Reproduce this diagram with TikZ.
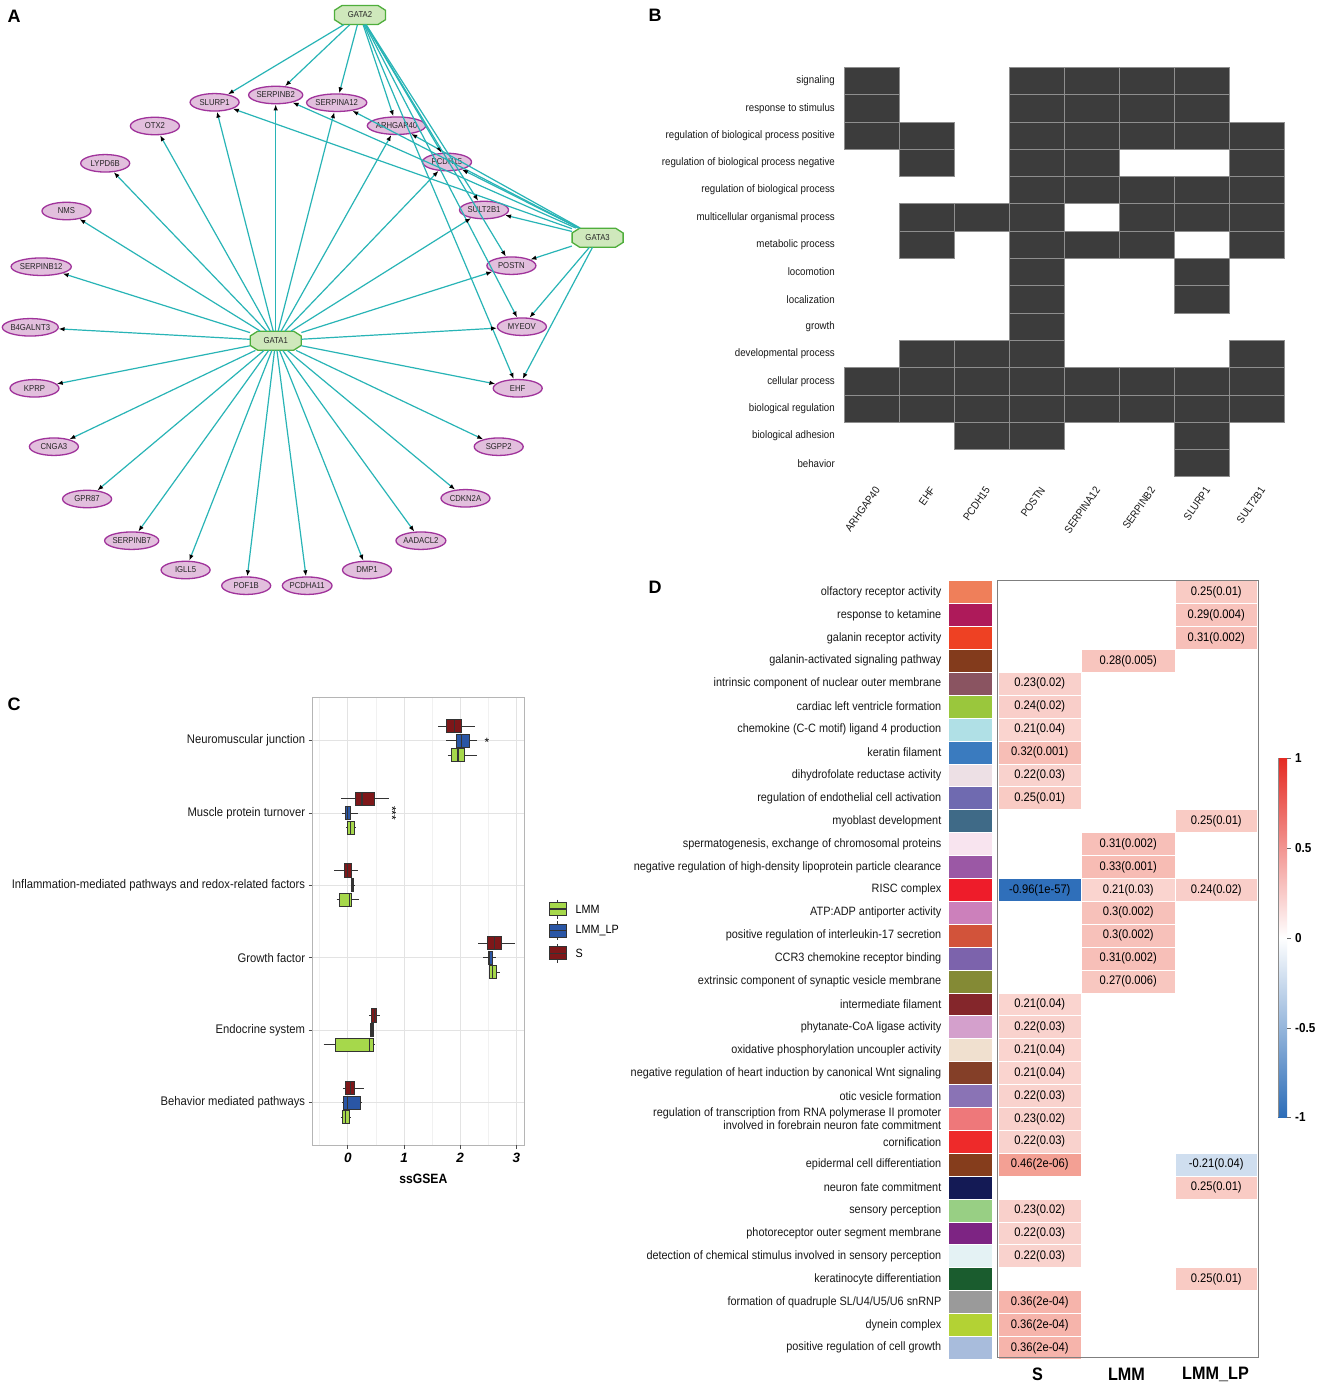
\documentclass[tikz,border=0pt]{standalone}
\usepackage{fontspec}
\setmainfont{Liberation Sans}
\newfontfamily\nsans[FakeStretch=0.9]{Liberation Sans}
\usetikzlibrary{shapes.geometric,arrows.meta}
\definecolor{genefill}{HTML}{E2BFDD}
\definecolor{genedraw}{HTML}{A0339B}
\definecolor{tffill}{HTML}{CFE8BC}
\definecolor{tfdraw}{HTML}{4FAE3C}
\definecolor{edgec}{HTML}{28B4B6}
\definecolor{cellB}{HTML}{3C3C3C}
\definecolor{cellBline}{HTML}{8E8E8E}
\definecolor{Sred}{HTML}{7E1719}
\definecolor{Sblue}{HTML}{2A56A5}
\definecolor{Sgreen}{HTML}{A6D84B}
\definecolor{bxc}{HTML}{333333}
\definecolor{gridc}{HTML}{E3E3E3}
\definecolor{gridm}{HTML}{F1F1F1}
\definecolor{panelc}{HTML}{B5B5B5}
\definecolor{rdc}{HTML}{E8442E}
\definecolor{buc}{HTML}{2F6FBA}
\definecolor{framec}{HTML}{7F7F7F}
\definecolor{cbtop}{HTML}{E52A22}
\definecolor{cbbot}{HTML}{2C6DB8}
\newcommand\fsz[1]{\fontsize{#1}{#1}\selectfont}
\newcommand\bxp[7]{%
  \draw[bxl] (#2,#1) -- (#3,#1) (#5,#1) -- (#6,#1);
  \filldraw[bxl,fill=#7] (#3,#1-6.6) rectangle (#5,#1+6.6);
  \draw[bxl,line width=1.3pt] (#4,#1-6.6) -- (#4,#1+6.6);}
% octagonal transcription-factor node
\newcommand\octnode[4]{%
  \filldraw[fill=tffill, draw=tfdraw, line width=1.3pt]
    ({#2-18},{#3-9.5}) -- ({#2+18},{#3-9.5}) -- ({#2+25.5},{#3-4.7}) --
    ({#2+25.5},{#3+4.7}) -- ({#2+18},{#3+9.5}) -- ({#2-18},{#3+9.5}) --
    ({#2-25.5},{#3+4.7}) -- ({#2-25.5},{#3-4.7}) -- cycle;
  \node[tf] (#1) at (#2,#3) {#4};}
\tikzset{
  gene/.style={ellipse, draw=genedraw, fill=genefill, line width=1.3pt,
    minimum width=49pt, minimum height=17.5pt, inner sep=0pt,
    font=\nsans\fsz{8.6}, text=black!85},
  tf/.style={rectangle, minimum width=51pt, minimum height=19pt, inner sep=0pt,
    font=\nsans\fsz{8.6}, text=black!85},
  conn/.style={draw=edgec, line width=1.2pt,
    -{Latex[length=6pt,width=4.5pt,color=black]}},
  plab/.style={font=\bfseries\fsz{18}, inner sep=0pt},
  lblB/.style={font=\nsans\fsz{10.8}, inner sep=0pt, text=black!90},
  lblC/.style={font=\nsans\fsz{12.5}, inner sep=0pt, text=black!90},
  lblD/.style={font=\nsans\fsz{12.1}, inner sep=0pt, text=black!90, align=right},
  cellBs/.style={fill=cellB, draw=cellBline, line width=0.8pt},
  bxl/.style={draw=bxc, line width=0.9pt},
}
\begin{document}
\begin{tikzpicture}[x=1pt,y=-1pt]
\useasboundingbox[fill=white] (0,0) rectangle (1325,1389);

% ---------------- panel labels
\node[plab] (labA) at (14,16) {A};
\node[plab] (labB) at (655,15) {B};
\node[plab] (labC) at (14,704) {C};
\node[plab] (labD) at (655,587) {D};

% ---------------- Panel A: network
\octnode{GATA2}{360}{15}{GATA2}
\octnode{GATA3}{597.6}{237.7}{GATA3}
\octnode{GATA1}{275.7}{340.7}{GATA1}
\foreach \n/\x/\y in {SLURP1/214.6/102.3, SERPINB2/275.7/95, SERPINA12/336.7/102.7,
  OTX2/154.9/126, ARHGAP40/396.5/125.7, LYPD6B/105.2/163.3, PCDH15/447/162,
  NMS/66.5/211, SULT2B1/484/210, SERPINB12/41.2/266.7, POSTN/511.4/265.7,
  B4GALNT3/30.3/327.3, MYEOV/521.9/326.7, KPRP/34.5/388.3, EHF/517.7/388.3,
  CNGA3/53.9/446.7, SGPP2/498.7/446.7, GPR87/87.1/499, CDKN2A/465.5/498.3,
  SERPINB7/131.7/540.7, AADACL2/420.9/540.7, IGLL5/185.6/570, DMP1/367/570,
  POF1B/246.2/585.7, PCDHA11/307.2/585.7}
  \node[gene] (\n) at (\x,\y) {\n};

\foreach \t in {SLURP1,SERPINB2,SERPINA12,ARHGAP40,PCDH15,SULT2B1,POSTN,MYEOV,EHF}{
  \draw[conn] (GATA2) -- (\t);
  \draw[conn] (GATA3) -- (\t);
}
\foreach \t in {OTX2,LYPD6B,NMS,SERPINB12,B4GALNT3,KPRP,CNGA3,GPR87,SERPINB7,IGLL5,
  POF1B,PCDHA11,DMP1,AADACL2,CDKN2A,SGPP2,EHF,MYEOV,POSTN,SULT2B1,PCDH15,ARHGAP40,
  SERPINA12,SERPINB2,SLURP1}
  \draw[conn] (GATA1) -- (\t);

% ---------------- Panel B: GO matrix
\foreach \rr/\cols in {1/{1,4,5,6,7}, 2/{1,4,5,6,7}, 3/{1,2,4,5,6,7,8}, 4/{2,4,5,8},
  5/{4,5,6,7,8}, 6/{2,3,4,6,7,8}, 7/{2,4,5,6,8}, 8/{4,7}, 9/{4,7}, 10/{4},
  11/{2,3,4,8}, 12/{1,2,3,4,5,6,7,8}, 13/{1,2,3,4,5,6,7,8}, 14/{3,4,7}, 15/{7}}
  \foreach \cc in \cols
    \filldraw[cellBs] ({844+(\cc-1)*55.05},{67.3+(\rr-1)*27.3}) rectangle ++(55.05,27.3);
\foreach \lab [count=\rr] in {signaling, response to stimulus,
  regulation of biological process positive, regulation of biological process negative,
  regulation of biological process, multicellular organismal process, metabolic process,
  locomotion, localization, growth, developmental process, cellular process,
  biological regulation, biological adhesion, behavior}
  \node[lblB, anchor=east] (brow\rr) at (835,{67.3+(\rr-0.5)*27.3}) {\lab};
\foreach \g [count=\cc] in {ARHGAP40,EHF,PCDH15,POSTN,SERPINA12,SERPINB2,SLURP1,SULT2B1}
  \node[lblB, rotate=55, anchor=east] (bcol\cc) at ({844+(\cc-0.5)*55.05+6},488) {\g};

% ---------------- Panel C: boxplots
\draw[panelc, line width=0.9pt, fill=white] (312.2,697.3) rectangle (524.5,1145);
\foreach \v in {-0.5,0.5,1.5,2.5}
  \draw[gridm, line width=0.6pt] ({347.8+56.2*\v},697.8) -- ({347.8+56.2*\v},1144.5);
\foreach \v in {0,1,2,3}
  \draw[gridc, line width=1pt] ({347.8+56.2*\v},697.8) -- ({347.8+56.2*\v},1144.5);
\foreach \yy in {740.7,813.3,885,957.7,1030,1102.7}{
  \draw[gridc, line width=1pt] (312.7,\yy) -- (524,\yy);
  \draw[black!70, line width=0.7pt] (308.5,\yy) -- (312.2,\yy);
}
\foreach \v in {0,1,2,3}{
  \draw[black!70, line width=0.7pt] ({347.8+56.2*\v},1145) -- ({347.8+56.2*\v},1148.5);
  \node[font=\bfseries\itshape\fsz{13.5}, inner sep=0pt] (tick\v) at ({347.8+56.2*\v},1157.5) {\v};
}
\node[font=\bfseries\nsans\fsz{13.5}, inner sep=0pt] (xlab) at (423.3,1178.5) {ssGSEA};
\foreach \lab/\yy [count=\k] in {Neuromuscular junction/740.7, Muscle protein turnover/813.3,
  Inflammation-mediated pathways and redox-related factors/885, Growth factor/957.7,
  Endocrine system/1030, Behavior mediated pathways/1102.7}
  \node[lblC, anchor=east] (ccat\k) at (305.3,\yy) {\lab};
% Neuromuscular junction
\bxp{726.1}{438}{446.1}{454.3}{461.6}{474.7}{Sred}
\bxp{740.7}{446.1}{456}{461.2}{469.4}{476.7}{Sblue}
\bxp{755.3}{447.8}{451.8}{458}{464}{476.7}{Sgreen}
% Muscle protein turnover
\bxp{798.7}{341.2}{355.1}{362}{374.7}{388.6}{Sred}
\bxp{813.3}{342}{345}{347.8}{350.2}{358}{Sblue}
\bxp{827.9}{346}{347.4}{350.6}{354.7}{355.5}{Sgreen}
% Inflammation
\bxp{870.4}{334}{344}{347.4}{351}{358}{Sred}
\bxp{885}{351}{351.3}{352.5}{353.7}{354}{Sblue}
\bxp{899.6}{336.7}{339.6}{349.8}{351.8}{359.2}{Sgreen}
% Growth factor
\bxp{943.1}{478.4}{487}{494.7}{501.6}{515.1}{Sred}
\bxp{957.7}{482.9}{488.2}{489.8}{492.7}{496}{Sblue}
\bxp{972.3}{489.5}{489.8}{492.7}{496.8}{500}{Sgreen}
% Endocrine
\bxp{1015.4}{369.4}{371.4}{374.3}{376.7}{379.6}{Sred}
\bxp{1030}{370.6}{370.8}{372}{373}{373.4}{Sblue}
\bxp{1044.6}{323.7}{335.5}{369.4}{373.5}{374.7}{Sgreen}
% Behavior
\bxp{1088.1}{342.9}{345.7}{350.2}{354.7}{364.1}{Sred}
\bxp{1102.7}{342}{343.7}{347.8}{360.8}{362.4}{Sblue}
\bxp{1117.3}{340.8}{342}{345.7}{349.8}{351}{Sgreen}
\node[font=\fsz{12}, inner sep=0pt] (star1) at (487,742.5) {*};
\node[font=\fsz{12}, inner sep=0pt, rotate=-90] (star3) at (392,813.3) {***};
% legend
\foreach \lab/\yy/\col [count=\k] in {LMM/909/Sgreen, LMM\_LP/930.7/Sblue, S/953.3/Sred}{
  \draw[bxl] (557.5,\yy-9.5) -- (557.5,\yy+9.5);
  \filldraw[bxl, fill=\col] (549,\yy-6.5) rectangle (566,\yy+6.5);
  \draw[bxl, line width=1.2pt] (549,\yy) -- (566,\yy);
  \node[font=\nsans\fsz{12}, inner sep=0pt, anchor=west] (leg\k) at (575.5,\yy) {\lab};
}

% ---------------- Panel D: correlation heatmap
\foreach \lab/\hex [count=\rr] in {olfactory receptor activity/EF7F5A,
  response to ketamine/AE1A5A, galanin receptor activity/EE4123,
  galanin-activated signaling pathway/833B1C,
  intrinsic component of nuclear outer membrane/8A5461,
  cardiac left ventricle formation/9AC73C,
  chemokine (C-C motif) ligand 4 production/B0E0E6, keratin filament/3A7BBF,
  dihydrofolate reductase activity/EDE0E5,
  regulation of endothelial cell activation/6F6AB0, myoblast development/3F6A87,
  {spermatogenesis, exchange of chromosomal proteins}/F8E4EF,
  negative regulation of high-density lipoprotein particle clearance/9B58A5,
  RISC complex/EE1C2A, ATP:ADP antiporter activity/CC80BB,
  positive regulation of interleukin-17 secretion/D2533A,
  CCR3 chemokine receptor binding/7C63AC,
  extrinsic component of synaptic vesicle membrane/848A35,
  intermediate filament/84262B, phytanate-CoA ligase activity/D4A0CC,
  oxidative phosphorylation uncoupler activity/F0E0CF,
  negative regulation of heart induction by canonical Wnt signaling/843F28,
  otic vesicle formation/8A73B5,
  {regulation of transcription from RNA polymerase II promoter\\involved in forebrain neuron fate commitment}/EE787A,
  cornification/EE2A2A, epidermal cell differentiation/853D1C,
  neuron fate commitment/141A55, sensory perception/98CF84,
  photoreceptor outer segment membrane/7D2483,
  detection of chemical stimulus involved in sensory perception/E4F2F4,
  keratinocyte differentiation/1A5C2E,
  {formation of quadruple SL/U4/U5/U6 snRNP}/9A9A9A, dynein complex/B3D234,
  positive regulation of cell growth/A8BCDC}{
  \definecolor{sbc}{HTML}{\hex}
  \filldraw[fill=sbc, draw=white, line width=0.7pt] (948,{580.7+(\rr-1)*22.9}) rectangle (992.5,{580.7+\rr*22.9});
  \node[lblD, anchor=east, font=\nsans\fontsize{12.1}{13.6}\selectfont] (drow\rr) at (941.5,{580.7+(\rr-0.5)*22.9}) {\lab};
}
\foreach \rr/\cc/\pc/\base/\txt in {1/3/28/rdc/0.25(0.01), 2/3/32/rdc/0.29(0.004),
  3/3/34/rdc/0.31(0.002), 4/2/31/rdc/0.28(0.005), 5/1/25/rdc/0.23(0.02),
  6/1/26/rdc/0.24(0.02), 7/1/23/rdc/0.21(0.04), 8/1/35/rdc/0.32(0.001),
  9/1/24/rdc/0.22(0.03), 10/1/28/rdc/0.25(0.01), 11/3/28/rdc/0.25(0.01),
  12/2/34/rdc/0.31(0.002), 13/2/36/rdc/0.33(0.001), 14/1/100/buc/-0.96(1e-57),
  14/2/23/rdc/0.21(0.03), 14/3/26/rdc/0.24(0.02), 15/2/33/rdc/0.3(0.002),
  16/2/33/rdc/0.3(0.002), 17/2/34/rdc/0.31(0.002), 18/2/30/rdc/0.27(0.006),
  19/1/23/rdc/0.21(0.04), 20/1/24/rdc/0.22(0.03), 21/1/23/rdc/0.21(0.04),
  22/1/23/rdc/0.21(0.04), 23/1/24/rdc/0.22(0.03), 24/1/25/rdc/0.23(0.02),
  25/1/24/rdc/0.22(0.03), 26/1/51/rdc/0.46(2e-06), 26/3/23/buc/-0.21(0.04),
  27/3/28/rdc/0.25(0.01), 28/1/25/rdc/0.23(0.02), 29/1/24/rdc/0.22(0.03),
  30/1/24/rdc/0.22(0.03), 31/3/28/rdc/0.25(0.01), 32/1/40/rdc/0.36(2e-04),
  33/1/40/rdc/0.36(2e-04), 34/1/40/rdc/0.36(2e-04)}{
  \pgfmathsetmacro\xl{{998,1081.5,1175}[\cc-1]}
  \pgfmathsetmacro\xr{{1081.5,1175,1257.5}[\cc-1]}
  \filldraw[fill=\base!\pc!white, draw=white, line width=0.8pt] (\xl,{580.7+(\rr-1)*22.9}) rectangle (\xr,{580.7+\rr*22.9});
  \node[font=\nsans\fsz{12.4}, inner sep=0pt] at ({(\xl+\xr)/2},{580.7+(\rr-0.5)*22.9}) {\txt};
}
\draw[framec, line width=1.1pt] (997.4,580.7) rectangle (1258.2,1357.5);
\foreach \lab/\xx [count=\k] in {S/1037.5, LMM/1126.5, LMM\_LP/1215.5}
  \node[font=\bfseries\nsans\fsz{18}, inner sep=0pt] (dcol\k) at (\xx,1374) {\lab};
% colour bar
\shade[top color=cbtop, bottom color=cbbot, middle color=white] (1278,758) rectangle (1287,1117);
\draw[black!45, line width=0.5pt] (1278,758) -- (1278,1117);
\foreach \lab/\yy [count=\k] in {1/758, 0.5/848, 0/938, -0.5/1028, -1/1117}{
  \draw[black!60, line width=0.6pt] (1287,\yy) -- (1291,\yy);
  \node[font=\bfseries\nsans\fsz{13}, inner sep=0pt, anchor=west] (cb\k) at (1295,\yy) {\lab};
}
\end{tikzpicture}
\end{document}
